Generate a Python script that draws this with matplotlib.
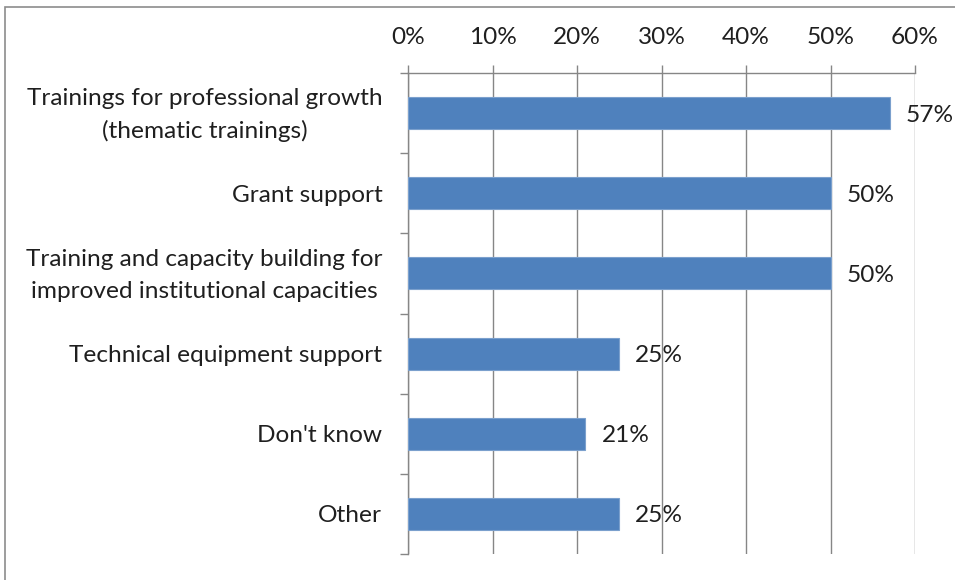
import matplotlib
matplotlib.use("Agg")
import matplotlib.pyplot as plt
from matplotlib.patches import Rectangle
from matplotlib.ticker import FixedLocator

categories = [
    "Trainings for professional growth\n(thematic trainings)",
    "Grant support",
    "Training and capacity building for\nimproved institutional capacities",
    "Technical equipment support",
    "Don't know",
    "Other",
]
values = [57, 50, 50, 25, 21, 25]
x_ticks = [0, 10, 20, 30, 40, 50, 60]
x_tick_labels = ["0%", "10%", "20%", "30%", "40%", "50%", "60%"]

BAR_COLOR = "#4F81BD"
EDGE_COLOR = "#7BA0CD"
GRID_COLOR = "#868686"
TEXT_COLOR = "#1f1f1f"
FONT = "Lato"
FS = 17.6

plt.rcParams["font.family"] = [FONT, "DejaVu Sans"]

W, H = 955, 580
fig = plt.figure(figsize=(W / 100, H / 100), dpi=100)

# outer chart frame (left and top edges visible)
fig.patches.append(Rectangle((5 / W, -0.1), 2.0, 1 - 7 / H + 0.1,
                             transform=fig.transFigure, fill=False,
                             edgecolor="#8c8c8c", linewidth=1.2))

ax = fig.add_axes([408 / W, 1 - 554 / H, (915 - 408) / W, (554 - 73) / H])

ypos = list(range(len(categories)))
ax.barh(ypos, values, height=0.4, color=BAR_COLOR, edgecolor=EDGE_COLOR,
        linewidth=0.8, zorder=3)

for y, v in zip(ypos, values):
    ax.annotate(f"{v}%", xy=(v, y), xytext=(11.5, -1.5), textcoords="offset points",
                ha="left", va="center", fontsize=FS, color=TEXT_COLOR, zorder=4)

ax.set_xlim(0, 60)
ax.set_ylim(len(categories) - 0.5, -0.5)

# x axis on top
ax.xaxis.tick_top()
ax.set_xticks(x_ticks)
ax.set_xticklabels(x_tick_labels, fontsize=FS, color=TEXT_COLOR)
ax.tick_params(axis="x", which="major", direction="out", length=5.8, width=1,
               color=GRID_COLOR, pad=12)
ax.xaxis.grid(True, color=GRID_COLOR, linewidth=1, zorder=0)
ax.set_axisbelow(True)

# y axis: ticks at category boundaries, category names centred on each band
ax.yaxis.set_major_locator(FixedLocator([i - 0.5 for i in range(len(categories) + 1)]))
ax.yaxis.set_major_formatter(plt.NullFormatter())
ax.tick_params(axis="y", which="major", direction="out", length=5.8, width=1,
               color=GRID_COLOR)
for y, cat in zip(ypos, categories):
    ax.annotate(cat, xy=(0, y), xycoords=("axes fraction", "data"),
                xytext=(-18.5, -1.5), textcoords="offset points",
                ha="right", va="center", multialignment="center",
                linespacing=1.6, fontsize=FS, color=TEXT_COLOR,
                annotation_clip=False)

for side in ("right", "bottom"):
    ax.spines[side].set_visible(False)
for side in ("top", "left"):
    ax.spines[side].set_color(GRID_COLOR)
    ax.spines[side].set_linewidth(1)

fig.savefig("out.png", dpi=100)
